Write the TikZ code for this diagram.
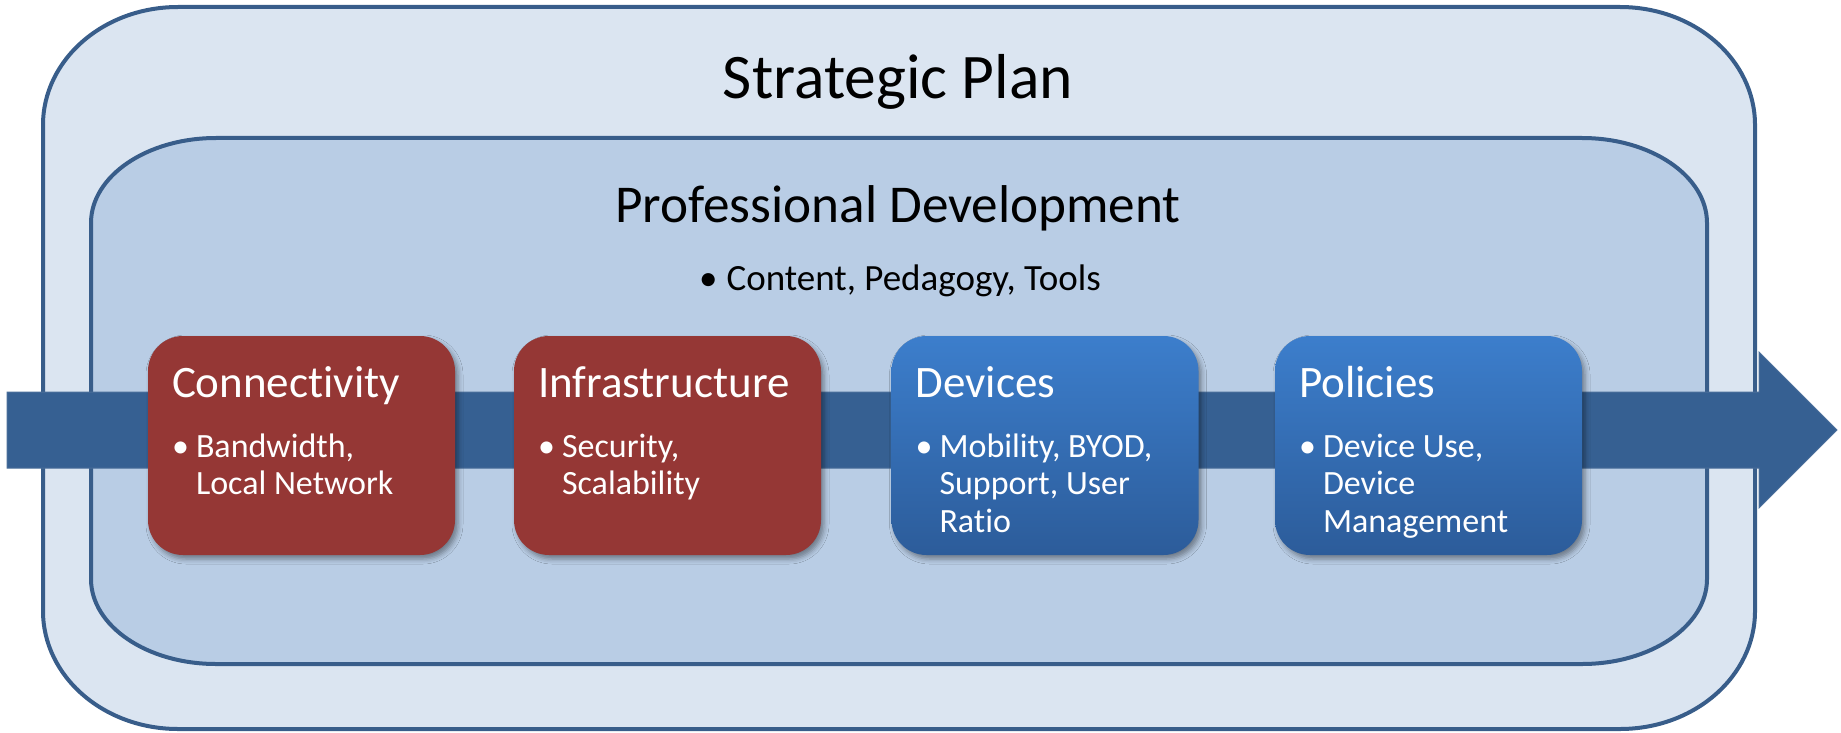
\documentclass[tikz,border=0pt]{standalone}
\usepackage{fontspec}
\setmainfont{Carlito}[Ligatures=NoCommon]
\usetikzlibrary{shadows.blur}
\definecolor{outerfill}{HTML}{DBE5F1}
\definecolor{innerfill}{HTML}{B9CDE5}
\definecolor{boxline}{HTML}{385D8A}
\definecolor{arrowfill}{HTML}{366092}
\definecolor{arrowline}{HTML}{4A6E9A}
\definecolor{cardred}{HTML}{953735}
\definecolor{bluetop}{HTML}{3C7ECC}
\definecolor{bluebot}{HTML}{2C5C9A}
\begin{document}
\begin{tikzpicture}[x=1pt,y=-1pt,
  boxshape/.style={draw=boxline, line width=4pt},
  card/.style={rectangle, rounded corners=35pt, minimum width=307pt, minimum height=219pt, inner sep=0pt,
    blur shadow={shadow xshift=3pt, shadow yshift=-4pt, shadow opacity=40, shadow blur radius=5pt}},
  redcard/.style={card, fill=cardred},
  bluecard/.style={card, top color=bluetop, bottom color=bluebot},
  cardtitle/.style={anchor=base west, inner sep=0pt, text=white, font=\fontsize{45}{54}\selectfont},
  cardtext/.style={anchor=base west, inner sep=0pt, text=white, font=\fontsize{34}{37.5}\selectfont},
  bigtitle/.style={anchor=base, inner sep=0pt, text=black}
]
\useasboundingbox (0,0) rectangle (1841,733);

% outer box
\path[boxshape, fill=outerfill]
  (43,125) .. controls (43,59.8) and (103.4,7) .. (178,7) -- (1620,7)
  .. controls (1694.6,7) and (1755,59.8) .. (1755,125) -- (1755,611)
  .. controls (1755,676.2) and (1694.6,729) .. (1620,729) -- (178,729)
  .. controls (103.4,729) and (43,676.2) .. (43,611) -- cycle;

% inner box
\path[boxshape, fill=innerfill]
  (91,223) .. controls (91,176.1) and (147,138) .. (216,138) -- (1582,138)
  .. controls (1651,138) and (1707,176.1) .. (1707,223) -- (1707,579)
  .. controls (1707,625.9) and (1651,664) .. (1582,664) -- (216,664)
  .. controls (147,664) and (91,625.9) .. (91,579) -- cycle;

% big arrow
\path[fill=arrowfill, draw=arrowline, line width=1pt]
  (7,392) -- (1759,392) -- (1759,352) -- (1837,430) -- (1759,508) -- (1759,468) -- (7,468) -- cycle;

% titles
\node[bigtitle, font=\fontsize{63.5}{76}\selectfont] (sp) at (898,99) {Strategic Plan};
\node[bigtitle, font=\fontsize{53.2}{64}\selectfont] (pd) at (898,222) {Professional Development};
\node[bigtitle, font=\fontsize{37}{44}\selectfont] (pdsub) at (900,290) {•\hspace{9pt}Content, Pedagogy, Tools};

% cards
\node[redcard] (c1) at (301.5,445.5) {};
\node[redcard] (c2) at (667.5,445.5) {};
\node[bluecard] (c3) at (1045,445.5) {};
\node[bluecard] (c4) at (1428.5,445.5) {};

% card texts
\node[cardtitle] (c1t) at ([xshift=24pt]c1.west |- 0,397) {Connectivity};
\node[cardtext] (c1b) at ([xshift=24pt]c1.west |- 0,457) {•};
\node[cardtext] (c1x) at ([xshift=48pt]c1.west |- 0,457) {\parbox[t]{255pt}{Bandwidth,\\Local Network}};

\node[cardtitle] (c2t) at ([xshift=24pt]c2.west |- 0,397) {Infrastructure};
\node[cardtext] (c2b) at ([xshift=24pt]c2.west |- 0,457) {•};
\node[cardtext] (c2x) at ([xshift=48pt]c2.west |- 0,457) {\parbox[t]{255pt}{Security,\\Scalability}};

\node[cardtitle] (c3t) at ([xshift=24pt]c3.west |- 0,397) {Devices};
\node[cardtext] (c3b) at ([xshift=24pt]c3.west |- 0,457) {•};
\node[cardtext] (c3x) at ([xshift=48pt]c3.west |- 0,457) {\parbox[t]{255pt}{Mobility, BYOD,\\Support, User\\Ratio}};

\node[cardtitle] (c4t) at ([xshift=24pt]c4.west |- 0,397) {Policies};
\node[cardtext] (c4b) at ([xshift=24pt]c4.west |- 0,457) {•};
\node[cardtext] (c4x) at ([xshift=48pt]c4.west |- 0,457) {\parbox[t]{255pt}{Device Use,\\Device\\Management}};
\end{tikzpicture}
\end{document}
